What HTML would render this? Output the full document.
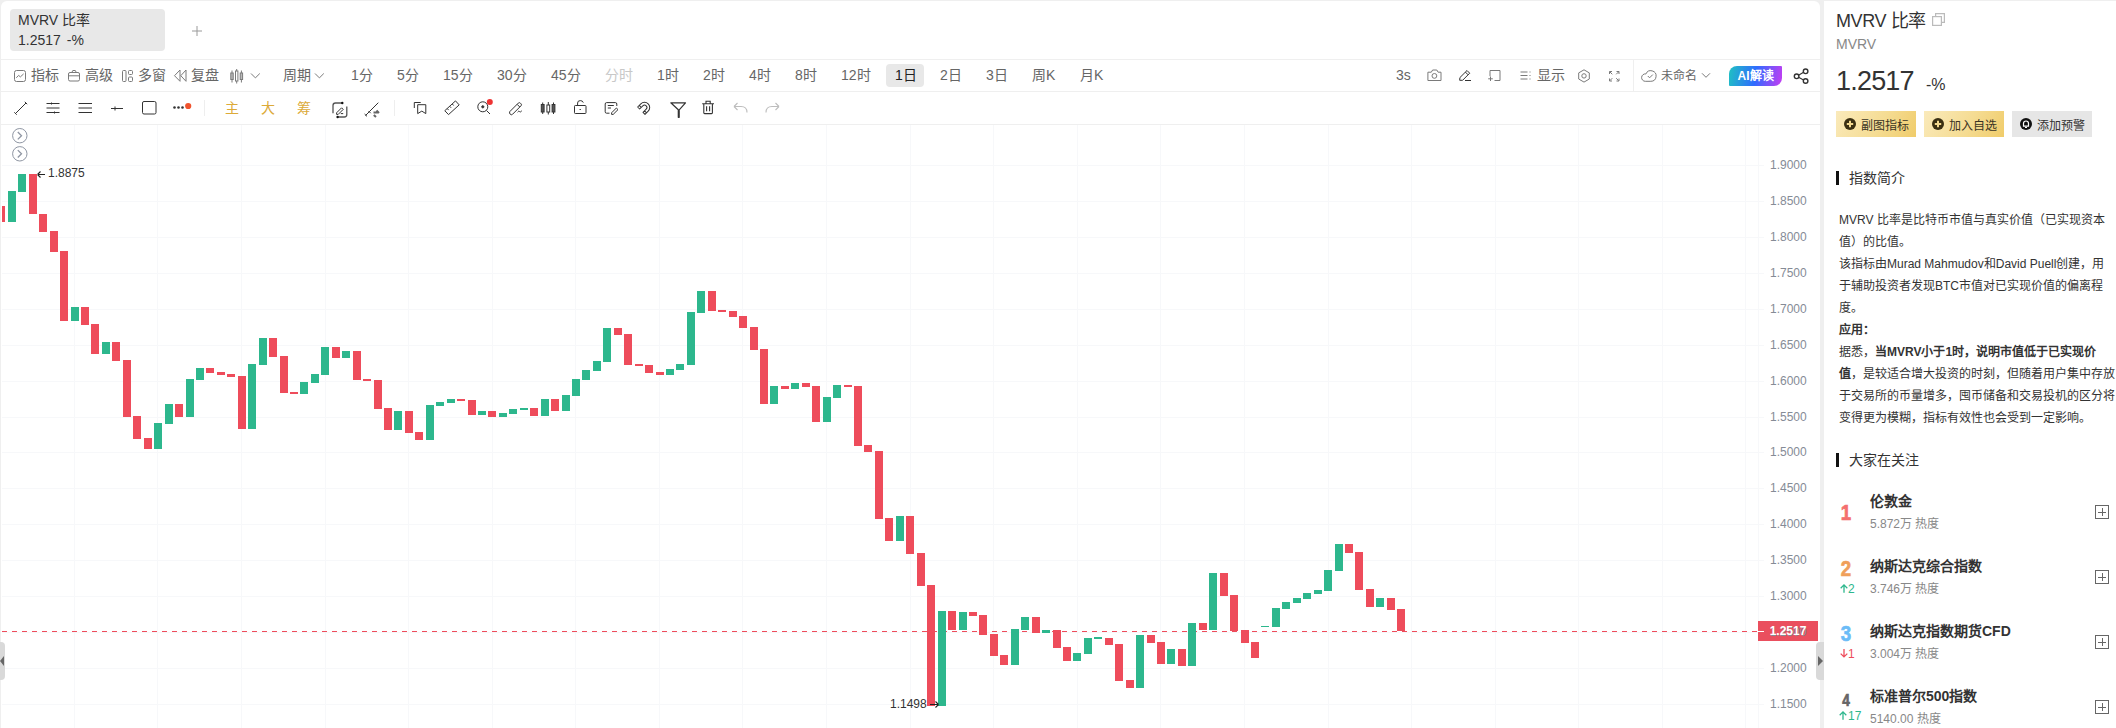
<!DOCTYPE html>
<html lang="zh-CN"><head><meta charset="utf-8">
<style>
*{margin:0;padding:0;box-sizing:border-box}
html,body{width:2116px;height:728px;overflow:hidden;background:#efefef;font-family:"Liberation Sans",sans-serif;color:#333;position:relative}
.a{position:absolute;white-space:nowrap}
#main{position:absolute;left:1px;top:1px;width:1819px;height:800px;background:#fff;border-radius:6px}
#side{position:absolute;left:1824px;top:1px;width:300px;height:800px;background:#fff}
.hl{position:absolute;left:1px;width:1819px;height:1px;background:#efefef}
.t14{font-size:14px;line-height:14px}
.t12{font-size:12px;line-height:12px}
.g6{color:#666}
.axl{position:absolute;left:1770px;font-size:12px;line-height:16px;color:#858b96}
svg{position:absolute;overflow:visible}
.ic{stroke:#808080;fill:none;stroke-width:1}
.id{stroke:#333;fill:none;stroke-width:1.1}
.btn{position:absolute;top:111px;height:26px;width:80px;font-size:12px;line-height:26px;color:#3a3424}
.gold{background:linear-gradient(120deg,#faeabb 0%,#f5dc93 55%,#f0cc6a 100%)}
.gray{background:#e6e6e6;color:#333}
.desc{position:absolute;left:1839px;font-size:12px;line-height:22px;color:#333;width:280px}
.desc b{font-weight:bold}
.rank{position:absolute;left:1839px;font-size:22px;line-height:22px;font-weight:bold;width:14px;text-align:center;transform:scaleX(0.85);-webkit-text-stroke:0.7px currentColor}
.nm{position:absolute;left:1870px;font-size:14px;line-height:14px;font-weight:bold;color:#333}
.sub{position:absolute;left:1870px;font-size:12px;line-height:12px;color:#888}
.chg{position:absolute;left:1839px;font-size:12px;line-height:12px}
.plus{position:absolute;left:2095px;width:14px;height:14px;border:1px solid #666;border-radius:0}
.plus:before{content:"";position:absolute;left:2px;top:5.5px;width:8px;height:1px;background:#666}
.plus:after{content:"";position:absolute;left:5.5px;top:2px;width:1px;height:8px;background:#666}
</style></head><body>
<div id="main"></div>
<div id="side"></div>

<!-- tab -->
<div class="a" style="left:10px;top:9px;width:155px;height:42px;background:#e8e8e8;border-radius:4px"></div>
<div class="a t14" style="left:18px;top:13px;color:#333">MVRV 比率</div>
<div class="a t14" style="left:18px;top:33px;color:#333">1.2517 <span style="margin-left:2px">-%</span></div>

<div class="hl" style="top:59px"></div>
<div class="hl" style="top:91px"></div>
<div class="hl" style="top:124px"></div>

<!-- toolbar row 1 -->
<svg style="left:0;top:0" width="1820" height="124">
<g fill="none" stroke="#7a7a7a" stroke-width="1">
<rect x="14.5" y="70.5" width="11" height="11" rx="2"/><path d="M16.3 77.8L18.6 75.4L20.4 76.9L23.6 73.9"/>
<rect x="68.5" y="72.5" width="11" height="8.5" rx="1.5"/><path d="M68.5 75.8H79.5M71.8 72.5L72.8 70.5H75.3L76.3 72.5"/>
<rect x="122.5" y="70.5" width="3.5" height="11" rx="1"/><rect x="128.5" y="70.5" width="4" height="4" rx="1"/><rect x="128.5" y="77" width="4" height="4.5" rx="1"/>
<path d="M180 70L174.5 75.7L180 81.3Z M186 70L180.8 75.7L186 81.3Z" stroke-linejoin="round"/>
<path d="M232 70.5V82.5M236.7 69V83.5M241.4 70.5V82.5"/>
<rect x="230.8" y="73" width="2.4" height="6.5" fill="#bbb"/><rect x="235.5" y="71" width="2.4" height="10" fill="#fff"/><rect x="240.2" y="73" width="2.4" height="6.5" fill="#bbb"/>
<path d="M251 73.5L255.4 77.9L259.8 73.5M315 73.5L319.4 77.9L323.8 73.5"/>
<path d="M1427.9 72.2H1431.3L1432.6 70H1436.8L1438.1 72.2H1441V80.5H1427.9Z"/><circle cx="1434.4" cy="75.9" r="2.4"/>
<path d="M1459.7 80.3L1459.9 77.6L1467 70.5L1469.7 73.2L1462.6 80.3Z M1465.4 72.1L1468.1 74.8 M1465 80.5H1471" stroke="#333"/>
<path d="M1490 76.2V70.5H1500V80.5H1494.5 M1490.5 76.5V81M1488.2 78.8H1492.8"/>
<path d="M1520.5 72H1527.5M1520.5 75.5H1527.5M1520.5 79H1527.5M1530 71.5V72.5M1530 75V76M1530 78.5V79.5"/>
<path d="M1584 69.8L1589.3 72.9V79L1584 82.1L1578.7 79V72.9Z"/><circle cx="1584" cy="75.9" r="2.2"/>
<path d="M1609.5 74V71.5H1612M1616.5 71.5H1619V74M1619 78.5V81H1616.5M1612 81H1609.5V78.5M1609.8 71.8L1612.3 74.3M1618.7 71.8L1616.2 74.3M1618.7 80.7L1616.2 78.2M1609.8 80.7L1612.3 78.2"/>
<path d="M1650.8 81.3A5.3 5.3 0 1 0 1645.91 73.95A3.7 3.7 0 1 0 1645.3 81.3Z"/><path d="M1647.8 76L1649.6 77.8L1652.8 74.6"/>
<path d="M1702 73.3L1706 77.3L1710 73.3"/>
</g>
<g fill="none" stroke="#333" stroke-width="1">
<path d="M1796.8 76.3L1805.3 71.3M1796.8 76.3L1805.3 81" stroke-width="1.2"/><circle cx="1796.6" cy="76.3" r="2.3" fill="#fff" stroke-width="1.4"/><circle cx="1805.6" cy="71.3" r="2.3" fill="#fff" stroke-width="1.4"/><circle cx="1805.6" cy="81" r="2.3" fill="#fff" stroke-width="1.4"/>
<path d="M15.5 113.5L26 103M14.3 112.3L16.7 114.7M24.8 101.8L27.2 104.2"/>
<path d="M46.5 103.5H59.5M46.5 108H59.5M46.5 112.5H59.5M51.5 102.5V104.5M54.5 111.5V113.5"/>
<path d="M78.5 103.5H92M78.5 108H92M78.5 112.5H92"/>
<path d="M111 108.5H123M115 106.5V110.5"/>
<rect x="142.5" y="101.5" width="13.5" height="12.5" rx="1.5"/>
<path d="M333 113.3V105.5Q333 103 335.5 103H342M346.8 106.5V114.5Q346.8 117 344.3 117H338" stroke="#555" stroke-width="1.3"/>
<circle cx="342.3" cy="103" r="1.2" fill="#111" stroke="none"/><circle cx="337.6" cy="117" r="1.2" fill="#111" stroke="none"/>
<path d="M336.6 112.8L341.6 107.8L343.2 109.4L338.2 114.4H336.6Z M340.8 113.6H343.2"/>
<path d="M365.5 115.5L378.3 102.7M364.6 114L367 116.4M368.5 111L370.7 113.2"/>
<path d="M373.5 112.5H378M376.5 110.5L379 113M373.8 115L376 117" stroke="#666" stroke-width="2"/>
<path d="M414.3 108V102.5H420.7M417.7 104.7H425.8V113.6L421.8 111.1L417.7 113.6Z"/>
<path d="M444.8 110.7L455.5 100.9L459.2 104.9L448.5 114.6Z M449.8 106.3L451.1 107.8M452.3 104L453.6 105.5M447.3 108.6L448.6 110.1"/>
<circle cx="482.8" cy="106.8" r="5"/><path d="M486.5 110.5L490 114"/><circle cx="482.8" cy="106.8" r="1.1" fill="#333"/>
<path d="M509.8 111.6L518.3 103.1Q519.3 102.1 520.3 103.1L521 103.8Q522 104.8 521 105.8L512.5 114.3Q511.3 115.3 510.3 114.3Q509 113 509.8 111.6Z M517.2 104.4L519.8 107"/><path d="M517.6 112.2Q518.8 110.5 519.6 111.6Q520.4 112.6 521.8 110.8"/>
<path d="M542.7 102.5V114M548.3 102V114.5M553.5 102.5V114" stroke-width="1"/>
<rect x="541.3" y="104.5" width="2.8" height="7.5" fill="#555"/><rect x="546.9" y="105" width="2.8" height="7" fill="#fff"/><rect x="552.1" y="104.5" width="2.8" height="7.5" fill="#555"/>
<rect x="574.5" y="105.5" width="11.5" height="8" rx="0.8"/><path d="M577.6 105.5V103Q577.6 100.6 580.3 100.6Q582.7 100.6 583.3 102.6"/><path d="M580.2 109V110" stroke-width="1.3"/>
<path d="M616.8 106V104Q616.8 102.6 615.4 102.6H606.6Q605.2 102.6 605.2 104V111.8Q605.2 113.2 606.6 113.2H609.5M607.8 105.5H613.8M607.8 108H611"/><path d="M611.6 112.8L616.4 108L618 109.6L613.2 114.4H611.6Z"/>
<g transform="rotate(45 644.5 107.5)"><path d="M639.3 107.5A5.2 5.2 0 0 1 649.7 107.5V112H646.9V107.5A2.4 2.4 0 0 0 642.1 107.5V112H639.3Z M639.3 109.8H642.1M646.9 109.8H649.7" stroke-linejoin="round"/></g>
<path d="M670.8 102.8H685.5L679.2 109.8V117.3H678.3V109.8Z" stroke-linejoin="round" stroke-width="1.2"/>
<path d="M702.2 103.8H714M706 103.6V101.3H710.2V103.6M703.8 104V112.8Q703.8 113.6 704.6 113.6H711.6Q712.4 113.6 712.4 112.8V104M706.6 106.3V111.2M709.6 106.3V111.2" stroke-width="1.1"/>
</g>
<circle cx="188.2" cy="106" r="3.1" fill="#f0532d"/>
<circle cx="174.5" cy="107.5" r="1.3" fill="#333"/><circle cx="178.5" cy="107.5" r="1.3" fill="#333"/><circle cx="182.5" cy="107.5" r="1.3" fill="#333"/>
<circle cx="489.8" cy="102" r="3" fill="#ee3333"/>
<path d="M734 106.5H741Q747 106.5 747 112.5M734 106.5L737.5 103M734 106.5L737.5 110" fill="none" stroke="#bdbdbd" stroke-width="1.1"/>
<path d="M779 106.5H772Q766 106.5 766 112.5M779 106.5L775.5 103M779 106.5L775.5 110" fill="none" stroke="#bdbdbd" stroke-width="1.1"/>
<path d="M192 31H202M197 26V36" stroke="#9a9a9a" stroke-width="1"/>
</svg>

<div class="a t14 g6" style="left:31px;top:68px">指标</div>
<div class="a t14 g6" style="left:85px;top:68px">高级</div>
<div class="a t14 g6" style="left:138px;top:68px">多窗</div>
<div class="a t14 g6" style="left:191px;top:68px">复盘</div>
<div class="a t14 g6" style="left:283px;top:68px">周期</div>

<div class="a t14 g6" style="left:351px;top:68px">1分</div>
<div class="a t14 g6" style="left:397px;top:68px">5分</div>
<div class="a t14 g6" style="left:443px;top:68px">15分</div>
<div class="a t14 g6" style="left:497px;top:68px">30分</div>
<div class="a t14 g6" style="left:551px;top:68px">45分</div>
<div class="a t14" style="left:605px;top:68px;color:#c8c8c8">分时</div>
<div class="a t14 g6" style="left:657px;top:68px">1时</div>
<div class="a t14 g6" style="left:703px;top:68px">2时</div>
<div class="a t14 g6" style="left:749px;top:68px">4时</div>
<div class="a t14 g6" style="left:795px;top:68px">8时</div>
<div class="a t14 g6" style="left:841px;top:68px">12时</div>
<div class="a" style="left:886px;top:64px;width:38px;height:23px;background:#e8e8e8;border-radius:4px"></div>
<div class="a t14" style="left:895px;top:68px;color:#222">1日</div>
<div class="a t14 g6" style="left:940px;top:68px">2日</div>
<div class="a t14 g6" style="left:986px;top:68px">3日</div>
<div class="a t14 g6" style="left:1032px;top:68px">周K</div>
<div class="a t14 g6" style="left:1080px;top:68px">月K</div>

<div class="a t14 g6" style="left:1396px;top:68px">3s</div>
<div class="a t14 g6" style="left:1537px;top:68px">显示</div>
<div class="a" style="left:1633px;top:60px;width:1px;height:31px;background:#efefef"></div>
<div class="a t12 g6" style="left:1661px;top:70px">未命名</div>
<div class="a" style="left:1729px;top:66px;width:53px;height:20px;border-radius:8px 1px 8px 1px;background:linear-gradient(100deg,#1fc2c2 0%,#2f6bff 50%,#c63cf2 100%)"></div>
<div class="a" style="left:1729px;top:66px;width:53px;height:20px;font-size:12px;line-height:20px;text-align:center;color:#fff;font-weight:bold">AI解读</div>

<!-- toolbar row 2 -->
<div class="a" style="left:204px;top:100px;width:1px;height:16px;background:#eee"></div>
<div class="a t14" style="left:225px;top:101px;color:#dcaa38">主</div>
<div class="a t14" style="left:261px;top:101px;color:#dcaa38">大</div>
<div class="a t14" style="left:297px;top:101px;color:#dcaa38">筹</div>
<div class="a" style="left:394px;top:100px;width:1px;height:16px;background:#eee"></div>

<!-- chart -->
<svg style="left:0;top:0" width="1820" height="728">
<g shape-rendering="crispEdges">
<line x1="2" y1="165.5" x2="1764" y2="165.5" stroke="#f7f8fa" stroke-width="1"/>
<line x1="2" y1="201.5" x2="1764" y2="201.5" stroke="#f7f8fa" stroke-width="1"/>
<line x1="2" y1="237.5" x2="1764" y2="237.5" stroke="#f7f8fa" stroke-width="1"/>
<line x1="2" y1="273.5" x2="1764" y2="273.5" stroke="#f7f8fa" stroke-width="1"/>
<line x1="2" y1="309.5" x2="1764" y2="309.5" stroke="#f7f8fa" stroke-width="1"/>
<line x1="2" y1="345.5" x2="1764" y2="345.5" stroke="#f7f8fa" stroke-width="1"/>
<line x1="2" y1="381.5" x2="1764" y2="381.5" stroke="#f7f8fa" stroke-width="1"/>
<line x1="2" y1="417.5" x2="1764" y2="417.5" stroke="#f7f8fa" stroke-width="1"/>
<line x1="2" y1="452.5" x2="1764" y2="452.5" stroke="#f7f8fa" stroke-width="1"/>
<line x1="2" y1="488.5" x2="1764" y2="488.5" stroke="#f7f8fa" stroke-width="1"/>
<line x1="2" y1="524.5" x2="1764" y2="524.5" stroke="#f7f8fa" stroke-width="1"/>
<line x1="2" y1="560.5" x2="1764" y2="560.5" stroke="#f7f8fa" stroke-width="1"/>
<line x1="2" y1="596.5" x2="1764" y2="596.5" stroke="#f7f8fa" stroke-width="1"/>
<line x1="2" y1="632.5" x2="1764" y2="632.5" stroke="#f7f8fa" stroke-width="1"/>
<line x1="2" y1="668.5" x2="1764" y2="668.5" stroke="#f7f8fa" stroke-width="1"/>
<line x1="2" y1="704.5" x2="1764" y2="704.5" stroke="#f7f8fa" stroke-width="1"/>
<line x1="74.5" y1="125" x2="74.5" y2="728" stroke="#f7f8fa" stroke-width="1"/>
<line x1="157.5" y1="125" x2="157.5" y2="728" stroke="#f7f8fa" stroke-width="1"/>
<line x1="241.5" y1="125" x2="241.5" y2="728" stroke="#f7f8fa" stroke-width="1"/>
<line x1="325.5" y1="125" x2="325.5" y2="728" stroke="#f7f8fa" stroke-width="1"/>
<line x1="408.5" y1="125" x2="408.5" y2="728" stroke="#f7f8fa" stroke-width="1"/>
<line x1="492.5" y1="125" x2="492.5" y2="728" stroke="#f7f8fa" stroke-width="1"/>
<line x1="575.5" y1="125" x2="575.5" y2="728" stroke="#f7f8fa" stroke-width="1"/>
<line x1="659.5" y1="125" x2="659.5" y2="728" stroke="#f7f8fa" stroke-width="1"/>
<line x1="742.5" y1="125" x2="742.5" y2="728" stroke="#f7f8fa" stroke-width="1"/>
<line x1="826.5" y1="125" x2="826.5" y2="728" stroke="#f7f8fa" stroke-width="1"/>
<line x1="910.5" y1="125" x2="910.5" y2="728" stroke="#f7f8fa" stroke-width="1"/>
<line x1="993.5" y1="125" x2="993.5" y2="728" stroke="#f7f8fa" stroke-width="1"/>
<line x1="1077.5" y1="125" x2="1077.5" y2="728" stroke="#f7f8fa" stroke-width="1"/>
<line x1="1160.5" y1="125" x2="1160.5" y2="728" stroke="#f7f8fa" stroke-width="1"/>
<line x1="1244.5" y1="125" x2="1244.5" y2="728" stroke="#f7f8fa" stroke-width="1"/>
<line x1="1328.5" y1="125" x2="1328.5" y2="728" stroke="#f7f8fa" stroke-width="1"/>
<line x1="1411.5" y1="125" x2="1411.5" y2="728" stroke="#f7f8fa" stroke-width="1"/>
<line x1="1495.5" y1="125" x2="1495.5" y2="728" stroke="#f7f8fa" stroke-width="1"/>
<line x1="1578.5" y1="125" x2="1578.5" y2="728" stroke="#f7f8fa" stroke-width="1"/>
<line x1="1662.5" y1="125" x2="1662.5" y2="728" stroke="#f7f8fa" stroke-width="1"/>
<line x1="1745.5" y1="125" x2="1745.5" y2="728" stroke="#f7f8fa" stroke-width="1"/>
<line x1="1758.5" y1="125" x2="1758.5" y2="728" stroke="#f7f8fa" stroke-width="1"/>
</g>
<line x1="2" y1="631.5" x2="1758" y2="631.5" stroke="#ee4c5b" stroke-width="1" stroke-dasharray="5 5" shape-rendering="crispEdges"/>
<g shape-rendering="crispEdges">
<rect x="2" y="206" width="3" height="16" fill="#ee4c5b"/>
<rect x="8" y="191" width="8" height="31" fill="#2db78d"/>
<rect x="18" y="174" width="8" height="18" fill="#2db78d"/>
<rect x="29" y="174" width="8" height="40" fill="#ee4c5b"/>
<rect x="39" y="214" width="8" height="18" fill="#ee4c5b"/>
<rect x="50" y="231" width="8" height="21" fill="#ee4c5b"/>
<rect x="60" y="251" width="8" height="70" fill="#ee4c5b"/>
<rect x="71" y="307" width="8" height="14" fill="#2db78d"/>
<rect x="81" y="307" width="8" height="18" fill="#ee4c5b"/>
<rect x="91" y="324" width="8" height="30" fill="#ee4c5b"/>
<rect x="102" y="342" width="8" height="12" fill="#2db78d"/>
<rect x="112" y="342" width="8" height="19" fill="#ee4c5b"/>
<rect x="123" y="360" width="8" height="57" fill="#ee4c5b"/>
<rect x="133" y="416" width="8" height="23" fill="#ee4c5b"/>
<rect x="144" y="438" width="8" height="11" fill="#ee4c5b"/>
<rect x="154" y="423" width="8" height="26" fill="#2db78d"/>
<rect x="165" y="404" width="8" height="20" fill="#2db78d"/>
<rect x="175" y="404" width="8" height="13" fill="#ee4c5b"/>
<rect x="186" y="379" width="8" height="38" fill="#2db78d"/>
<rect x="196" y="368" width="8" height="12" fill="#2db78d"/>
<rect x="206" y="368" width="8" height="5" fill="#ee4c5b"/>
<rect x="217" y="372" width="8" height="3" fill="#ee4c5b"/>
<rect x="227" y="374" width="8" height="3" fill="#ee4c5b"/>
<rect x="238" y="376" width="8" height="53" fill="#ee4c5b"/>
<rect x="248" y="364" width="8" height="65" fill="#2db78d"/>
<rect x="259" y="338" width="8" height="27" fill="#2db78d"/>
<rect x="269" y="338" width="8" height="19" fill="#ee4c5b"/>
<rect x="280" y="356" width="8" height="37" fill="#ee4c5b"/>
<rect x="290" y="392" width="8" height="2" fill="#ee4c5b"/>
<rect x="300" y="382" width="8" height="12" fill="#2db78d"/>
<rect x="311" y="374" width="8" height="9" fill="#2db78d"/>
<rect x="321" y="347" width="8" height="28" fill="#2db78d"/>
<rect x="332" y="347" width="8" height="11" fill="#ee4c5b"/>
<rect x="342" y="351" width="8" height="7" fill="#2db78d"/>
<rect x="353" y="351" width="8" height="29" fill="#ee4c5b"/>
<rect x="363" y="379" width="8" height="2" fill="#ee4c5b"/>
<rect x="374" y="380" width="8" height="29" fill="#ee4c5b"/>
<rect x="384" y="408" width="8" height="22" fill="#ee4c5b"/>
<rect x="394" y="411" width="8" height="19" fill="#2db78d"/>
<rect x="405" y="411" width="8" height="22" fill="#ee4c5b"/>
<rect x="415" y="432" width="8" height="8" fill="#ee4c5b"/>
<rect x="426" y="405" width="8" height="35" fill="#2db78d"/>
<rect x="436" y="402" width="8" height="4" fill="#2db78d"/>
<rect x="447" y="399" width="8" height="4" fill="#2db78d"/>
<rect x="457" y="399" width="8" height="2" fill="#ee4c5b"/>
<rect x="468" y="400" width="8" height="15" fill="#ee4c5b"/>
<rect x="478" y="411" width="8" height="4" fill="#2db78d"/>
<rect x="488" y="411" width="8" height="6" fill="#ee4c5b"/>
<rect x="499" y="413" width="8" height="4" fill="#2db78d"/>
<rect x="509" y="409" width="8" height="5" fill="#2db78d"/>
<rect x="520" y="408" width="8" height="2" fill="#2db78d"/>
<rect x="530" y="408" width="8" height="8" fill="#ee4c5b"/>
<rect x="541" y="399" width="8" height="17" fill="#2db78d"/>
<rect x="551" y="399" width="8" height="12" fill="#ee4c5b"/>
<rect x="562" y="395" width="8" height="16" fill="#2db78d"/>
<rect x="572" y="379" width="8" height="17" fill="#2db78d"/>
<rect x="582" y="370" width="8" height="10" fill="#2db78d"/>
<rect x="593" y="361" width="8" height="10" fill="#2db78d"/>
<rect x="603" y="328" width="8" height="34" fill="#2db78d"/>
<rect x="614" y="328" width="8" height="7" fill="#ee4c5b"/>
<rect x="624" y="334" width="8" height="31" fill="#ee4c5b"/>
<rect x="635" y="364" width="8" height="2" fill="#ee4c5b"/>
<rect x="645" y="365" width="8" height="8" fill="#ee4c5b"/>
<rect x="656" y="372" width="8" height="3" fill="#ee4c5b"/>
<rect x="666" y="369" width="8" height="6" fill="#2db78d"/>
<rect x="676" y="364" width="8" height="6" fill="#2db78d"/>
<rect x="687" y="312" width="8" height="53" fill="#2db78d"/>
<rect x="697" y="291" width="8" height="22" fill="#2db78d"/>
<rect x="708" y="291" width="8" height="20" fill="#ee4c5b"/>
<rect x="718" y="310" width="8" height="2" fill="#ee4c5b"/>
<rect x="729" y="311" width="8" height="6" fill="#ee4c5b"/>
<rect x="739" y="316" width="8" height="12" fill="#ee4c5b"/>
<rect x="750" y="327" width="8" height="23" fill="#ee4c5b"/>
<rect x="760" y="349" width="8" height="55" fill="#ee4c5b"/>
<rect x="770" y="386" width="8" height="18" fill="#2db78d"/>
<rect x="781" y="386" width="8" height="3" fill="#ee4c5b"/>
<rect x="791" y="383" width="8" height="6" fill="#2db78d"/>
<rect x="802" y="383" width="8" height="4" fill="#ee4c5b"/>
<rect x="812" y="386" width="8" height="36" fill="#ee4c5b"/>
<rect x="823" y="397" width="8" height="25" fill="#2db78d"/>
<rect x="833" y="385" width="8" height="13" fill="#2db78d"/>
<rect x="844" y="385" width="8" height="2" fill="#ee4c5b"/>
<rect x="854" y="386" width="8" height="60" fill="#ee4c5b"/>
<rect x="864" y="445" width="8" height="7" fill="#ee4c5b"/>
<rect x="875" y="451" width="8" height="68" fill="#ee4c5b"/>
<rect x="885" y="518" width="8" height="23" fill="#ee4c5b"/>
<rect x="896" y="516" width="8" height="25" fill="#2db78d"/>
<rect x="906" y="516" width="8" height="38" fill="#ee4c5b"/>
<rect x="917" y="553" width="8" height="33" fill="#ee4c5b"/>
<rect x="927" y="585" width="8" height="121" fill="#ee4c5b"/>
<rect x="938" y="611" width="8" height="95" fill="#2db78d"/>
<rect x="948" y="611" width="8" height="19" fill="#ee4c5b"/>
<rect x="959" y="612" width="8" height="18" fill="#2db78d"/>
<rect x="969" y="612" width="8" height="4" fill="#ee4c5b"/>
<rect x="979" y="615" width="8" height="20" fill="#ee4c5b"/>
<rect x="990" y="634" width="8" height="22" fill="#ee4c5b"/>
<rect x="1000" y="655" width="8" height="10" fill="#ee4c5b"/>
<rect x="1011" y="629" width="8" height="36" fill="#2db78d"/>
<rect x="1021" y="617" width="8" height="13" fill="#2db78d"/>
<rect x="1032" y="617" width="8" height="16" fill="#ee4c5b"/>
<rect x="1042" y="630" width="8" height="3" fill="#2db78d"/>
<rect x="1053" y="630" width="8" height="18" fill="#ee4c5b"/>
<rect x="1063" y="647" width="8" height="14" fill="#ee4c5b"/>
<rect x="1073" y="653" width="8" height="8" fill="#2db78d"/>
<rect x="1084" y="638" width="8" height="16" fill="#2db78d"/>
<rect x="1094" y="637" width="8" height="2" fill="#2db78d"/>
<rect x="1105" y="638" width="8" height="7" fill="#ee4c5b"/>
<rect x="1115" y="644" width="8" height="37" fill="#ee4c5b"/>
<rect x="1126" y="680" width="8" height="8" fill="#ee4c5b"/>
<rect x="1136" y="635" width="8" height="53" fill="#2db78d"/>
<rect x="1147" y="635" width="8" height="8" fill="#ee4c5b"/>
<rect x="1157" y="642" width="8" height="22" fill="#ee4c5b"/>
<rect x="1167" y="649" width="8" height="15" fill="#2db78d"/>
<rect x="1178" y="649" width="8" height="17" fill="#ee4c5b"/>
<rect x="1188" y="623" width="8" height="43" fill="#2db78d"/>
<rect x="1199" y="623" width="8" height="7" fill="#ee4c5b"/>
<rect x="1209" y="573" width="8" height="57" fill="#2db78d"/>
<rect x="1220" y="573" width="8" height="23" fill="#ee4c5b"/>
<rect x="1230" y="595" width="8" height="36" fill="#ee4c5b"/>
<rect x="1241" y="630" width="8" height="13" fill="#ee4c5b"/>
<rect x="1251" y="642" width="8" height="16" fill="#ee4c5b"/>
<rect x="1261" y="626" width="8" height="1" fill="#2db78d"/>
<rect x="1272" y="608" width="8" height="19" fill="#2db78d"/>
<rect x="1282" y="602" width="8" height="7" fill="#2db78d"/>
<rect x="1293" y="598" width="8" height="5" fill="#2db78d"/>
<rect x="1303" y="593" width="8" height="6" fill="#2db78d"/>
<rect x="1314" y="590" width="8" height="4" fill="#2db78d"/>
<rect x="1324" y="570" width="8" height="21" fill="#2db78d"/>
<rect x="1335" y="544" width="8" height="27" fill="#2db78d"/>
<rect x="1345" y="544" width="8" height="9" fill="#ee4c5b"/>
<rect x="1355" y="552" width="8" height="38" fill="#ee4c5b"/>
<rect x="1366" y="589" width="8" height="18" fill="#ee4c5b"/>
<rect x="1376" y="598" width="8" height="9" fill="#2db78d"/>
<rect x="1387" y="598" width="8" height="12" fill="#ee4c5b"/>
<rect x="1397" y="609" width="8" height="22" fill="#ee4c5b"/>
</g>
<circle cx="19.8" cy="135.7" r="7.2" fill="#fff" stroke="#8f96a3" stroke-width="1"/>
<path d="M17.8 132L21.5 135.7L17.8 139.4" fill="none" stroke="#8f96a3" stroke-width="1.3"/>
<circle cx="19.8" cy="153.8" r="7.2" fill="#fff" stroke="#8f96a3" stroke-width="1"/>
<path d="M17.8 150.1L21.5 153.8L17.8 157.5" fill="none" stroke="#8f96a3" stroke-width="1.3"/>
<path d="M37.5 174.5H45M37.5 174.5L40.5 171.5M37.5 174.5L40.5 177.5" fill="none" stroke="#222" stroke-width="1.1"/>
<path d="M930 704.5H938.5M938.5 704.5L935.5 701.5M938.5 704.5L935.5 707.5" fill="none" stroke="#222" stroke-width="1.1"/>
<rect x="1758" y="621" width="60" height="20" fill="#ea4f5e"/><path d="M1758 631.5H1764" stroke="#fff" stroke-width="1"/>
</svg>
<div class="a t12" style="left:48px;top:167px;color:#333">1.8875</div>
<div class="a t12" style="left:890px;top:698px;color:#333">1.1498</div>
<div class="axl" style="top:157.2px">1.9000</div>
<div class="axl" style="top:193.1px">1.8500</div>
<div class="axl" style="top:229.0px">1.8000</div>
<div class="axl" style="top:264.9px">1.7500</div>
<div class="axl" style="top:300.8px">1.7000</div>
<div class="axl" style="top:336.7px">1.6500</div>
<div class="axl" style="top:372.6px">1.6000</div>
<div class="axl" style="top:408.5px">1.5500</div>
<div class="axl" style="top:444.4px">1.5000</div>
<div class="axl" style="top:480.3px">1.4500</div>
<div class="axl" style="top:516.2px">1.4000</div>
<div class="axl" style="top:552.1px">1.3500</div>
<div class="axl" style="top:588.0px">1.3000</div>
<div class="axl" style="top:623.9px">1.2500</div>
<div class="axl" style="top:659.8px">1.2000</div>
<div class="axl" style="top:695.7px">1.1500</div>
<div class="a" style="left:1758px;top:621px;width:60px;height:20px;font-size:12px;line-height:20px;text-align:center;color:#fff;font-weight:bold">1.2517</div>
<!-- handles -->
<div class="a" style="left:0;top:642px;width:5px;height:38px;background:#d9d9d9;border-radius:0 4px 4px 0"></div>
<svg style="left:0;top:656px" width="4" height="10"><path d="M4 0V10L0 5Z" fill="#666"/></svg>
<div class="a" style="left:1816px;top:642px;width:8px;height:38px;background:#d9d9d9;border-radius:4px 0 0 4px"></div>
<svg style="left:1818px;top:656px" width="5" height="10"><path d="M0 0V10L5 5Z" fill="#666"/></svg>

<!-- side panel -->
<div class="a" style="left:1836px;top:12px;font-size:18px;line-height:18px;color:#333;letter-spacing:-0.4px">MVRV 比率</div>
<svg style="left:1932px;top:13px" width="13" height="13"><rect x="0.6" y="3.6" width="8.8" height="8.8" fill="#fff" stroke="#bbb" stroke-width="1.2"/><path d="M3.6 3.6V0.6H12.4V9.4H9.4" fill="none" stroke="#bbb" stroke-width="1.2"/></svg>
<div class="a" style="left:1836px;top:37px;font-size:14px;line-height:14px;color:#888">MVRV</div>
<div class="a" style="left:1836px;top:68px;font-size:27px;line-height:27px;color:#333;letter-spacing:-0.8px">1.2517</div>
<div class="a" style="left:1926px;top:77px;font-size:16px;line-height:16px;color:#333">-%</div>

<div class="btn gold" style="left:1836px"><svg style="left:8px;top:7px" width="12" height="12"><circle cx="6" cy="6" r="6" fill="#3a2f12"/><path d="M6 2.8V9.2M2.8 6H9.2" stroke="#f3d98f" stroke-width="2"/></svg><span style="position:absolute;left:25px;top:2px">副图指标</span></div>
<div class="btn gold" style="left:1924px"><svg style="left:8px;top:7px" width="12" height="12"><circle cx="6" cy="6" r="6" fill="#3a2f12"/><path d="M6 2.8V9.2M2.8 6H9.2" stroke="#f3d98f" stroke-width="2"/></svg><span style="position:absolute;left:25px;top:2px">加入自选</span></div>
<div class="btn gray" style="left:2012px"><svg style="left:8px;top:7px" width="12" height="12"><circle cx="6" cy="6" r="6" fill="#111"/><path d="M3.5 8.2H8.5V5.5Q8.5 3 6 3Q3.5 3 3.5 5.5Z M5 9.5H7" fill="none" stroke="#fff" stroke-width="1.2"/></svg><span style="position:absolute;left:25px;top:2px">添加预警</span></div>

<div class="a" style="left:1836px;top:171px;width:3px;height:14px;background:#111"></div>
<div class="a t14" style="left:1849px;top:171px;color:#333">指数简介</div>
<div class="desc" style="top:209px">MVRV 比率是比特币市值与真实价值（已实现资本<br>值）的比值。<br>该指标由Murad Mahmudov和David Puell创建，用<br>于辅助投资者发现BTC市值对已实现价值的偏离程<br>度。<br><b>应用：</b><br>据悉，<b>当MVRV小于1时，说明市值低于已实现价<br>值</b>，是较适合增大投资的时刻，但随着用户集中存放<br>于交易所的币量增多，囤币储备和交易投机的区分将<br>变得更为模糊，指标有效性也会受到一定影响。</div>

<div class="a" style="left:1836px;top:453px;width:3px;height:14px;background:#111"></div>
<div class="a t14" style="left:1849px;top:453px;color:#333">大家在关注</div>

<div class="rank" style="top:502px;color:#f46f6f">1</div>
<div class="nm" style="top:494px">伦敦金</div>
<div class="sub" style="top:518px">5.872万 热度</div>
<div class="plus" style="top:505px"></div>

<div class="rank" style="top:558px;color:#f0a05a">2</div>
<svg style="left:1840px;top:584px" width="8" height="9"><path d="M4 8.8V1M0.7 4.2L4 0.9L7.3 4.2" fill="none" stroke="#2db78d" stroke-width="1.3"/></svg><div class="chg" style="left:1848px;top:583px;color:#2db78d">2</div>
<div class="nm" style="top:559px">纳斯达克综合指数</div>
<div class="sub" style="top:583px">3.746万 热度</div>
<div class="plus" style="top:570px"></div>

<div class="rank" style="top:623px;color:#6bbcf7">3</div>
<svg style="left:1840px;top:649px" width="8" height="9"><path d="M4 0V7.8M0.7 4.6L4 7.9L7.3 4.6" fill="none" stroke="#ee4c5b" stroke-width="1.3"/></svg><div class="chg" style="left:1848px;top:648px;color:#ee4c5b">1</div>
<div class="nm" style="top:624px">纳斯达克指数期货CFD</div>
<div class="sub" style="top:648px">3.004万 热度</div>
<div class="plus" style="top:635px"></div>

<div class="rank" style="top:690px;color:#666;font-size:16px;font-style:normal">4</div>
<svg style="left:1839px;top:711px" width="8" height="9"><path d="M4 8.8V1M0.7 4.2L4 0.9L7.3 4.2" fill="none" stroke="#2db78d" stroke-width="1.3"/></svg><div class="chg" style="left:1848px;top:710px;color:#2db78d">17</div>
<div class="nm" style="top:689px">标准普尔500指数</div>
<div class="sub" style="top:713px">5140.00 热度</div>
<div class="plus" style="top:700px"></div>
</body></html>
